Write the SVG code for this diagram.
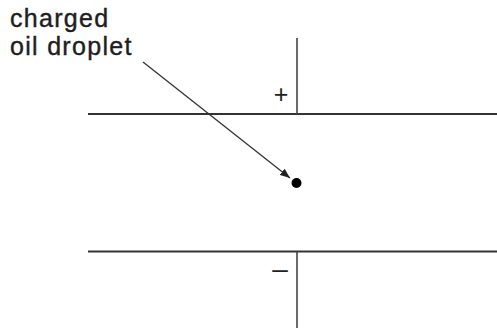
<svg xmlns="http://www.w3.org/2000/svg" width="497" height="333" viewBox="0 0 497 333">
<style>
.plate{stroke:#333;stroke-width:2.2;fill:none}
.wire{stroke:#444;stroke-width:1.6;fill:none}
.lbl{font-family:"Liberation Sans",Arial,sans-serif;font-size:25px;letter-spacing:1.3px;fill:#1e1e1e;stroke:#1e1e1e;stroke-width:0.4}
.sign{font-family:"Liberation Sans",Arial,sans-serif;fill:#222;text-anchor:middle}
.ptr{stroke:#333;stroke-width:1.3;fill:none}
</style>
<defs>
<marker id="ah" markerWidth="10" markerHeight="8" refX="10" refY="4" orient="auto" markerUnits="userSpaceOnUse">
<path d="M0,0 L10,4 L0,8 Z" fill="#222"/>
</marker>
</defs>
<rect width="497" height="333" fill="#fff"/>
<g id="top-plate">
<line class="plate" x1="88" y1="114" x2="497" y2="114"/>
<line class="wire" x1="297" y1="38" x2="297" y2="114"/>
<text class="sign" x="281" y="103" font-size="25">+</text>
</g>
<g id="bottom-plate">
<line class="plate" x1="88" y1="251.5" x2="497" y2="251.5"/>
<line class="wire" x1="297" y1="251.5" x2="297" y2="328"/>
<text class="sign" x="280" y="278" font-size="28">–</text>
</g>
<g id="droplet">
<circle cx="296.5" cy="183" r="5" fill="#000"/>
</g>
<g id="label">
<text class="lbl" x="10" y="27">charged</text>
<text class="lbl" x="10" y="55">oil droplet</text>
</g>
<g id="connectors">
<line class="ptr" x1="143" y1="62" x2="290" y2="178" marker-end="url(#ah)"/>
</g>
</svg>
